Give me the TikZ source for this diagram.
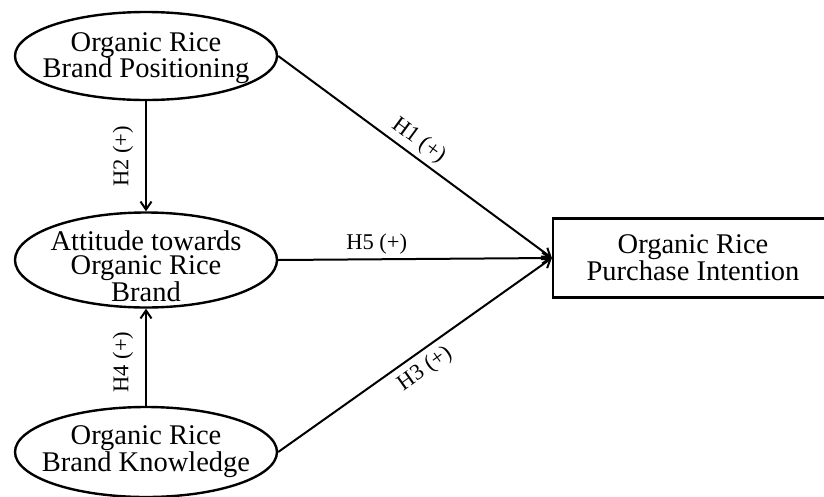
\documentclass[tikz,border=0pt]{standalone}
\usepackage{fontspec}
\setmainfont{Liberation Serif}
\usetikzlibrary{shapes.geometric,arrows.meta}
\begin{document}
\begin{tikzpicture}[x=1pt,y=-1pt,
  construct/.style={ellipse,draw,line width=2.4pt,inner xsep=-40pt,inner ysep=-20pt,minimum width=262pt},
  ctext/.style={align=center,inner sep=0pt,font=\fontsize{28.5}{26}\selectfont},
  outcome/.style={rectangle,draw,line width=2.2pt,inner sep=0pt,minimum width=280pt,minimum height=79pt,
    align=center,font=\fontsize{28.5}{25}\selectfont},
  link/.style={line width=2pt,-{Straight Barb[length=8pt,width=11pt,line width=2pt]}},
  hyp/.style={font=\fontsize{22.5}{24}\selectfont,inner sep=4pt}]
\clip (0,0) rectangle (824,496);
\node[construct,minimum height=88pt] (bp) at (146,56) {};
\node[ctext] (bpT) at (146,58) {Organic Rice\\Brand Positioning};
\node[construct,minimum height=95pt] (att) at (146,260) {};
\node[ctext,font=\fontsize{28.5}{24}\selectfont] (attT) at (146,266) {Attitude towards\\Organic Rice\\Brand};
\node[construct,minimum height=90pt] (bk) at (146,452) {};
\node[ctext,font=\fontsize{28.5}{25}\selectfont] (bkT) at (146,452) {Organic Rice\\Brand Knowledge};
\node[outcome] (pi) at (693,258) {Organic Rice\\Purchase Intention};
\draw[link] (bp.south) -- node[hyp,pos=0.5,xshift=-23pt,rotate=90] {H2 (+)} (att.north);
\draw[link] (bk.north) -- node[hyp,pos=0.45,xshift=-23pt,rotate=90] {H4 (+)} (att.south);
\draw[link] (bp.east) -- node[hyp,pos=0.48,sloped,above] {H1 (+)} (pi.west);
\draw[link] (att.east) -- node[hyp,pos=0.36,above] {H5 (+)} (pi.west);
\draw[link] (bk.east) -- node[hyp,pos=0.5,sloped,below,inner sep=6pt] {H3 (+)} (pi.west);
\end{tikzpicture}
\end{document}
